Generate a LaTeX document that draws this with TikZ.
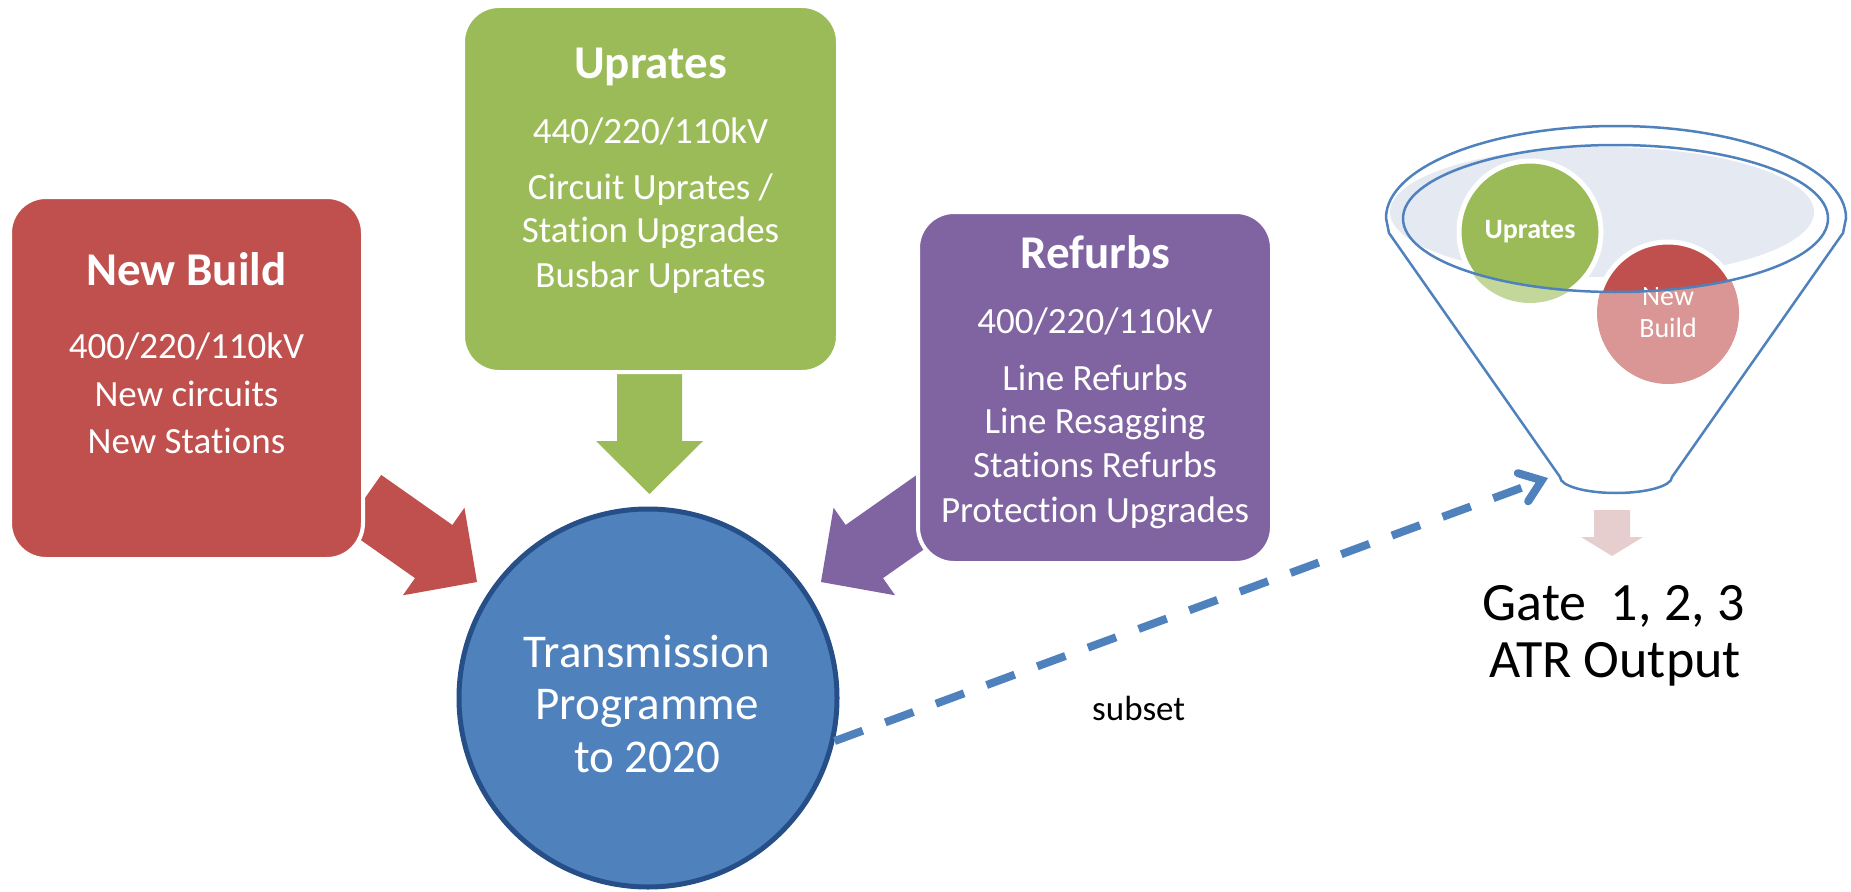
\documentclass[tikz,border=0pt]{standalone}
\usepackage{fontspec}
\setmainfont[Ligatures={NoCommon}]{Carlito}
\usetikzlibrary{arrows.meta,calc}
\definecolor{nbred}{HTML}{C0504D}
\definecolor{upgreen}{HTML}{9BBB59}
\definecolor{rfpurple}{HTML}{8064A2}
\definecolor{tpblue}{HTML}{4F81BD}
\definecolor{tpborder}{RGB}{38,78,135}
\definecolor{funfill}{RGB}{228,233,242}
\definecolor{lightgreen}{RGB}{196,215,155}
\definecolor{lightred}{RGB}{217,150,148}
\definecolor{gatepink}{RGB}{230,206,206}
\newcommand{\blockarrow}[7]{%
  \begin{scope}[shift={#2}, rotate=#3]
    \fill[#1] (0,-#5) -- (#4-#7,-#5) -- (#4-#7,-#6) -- (#4,0) -- (#4-#7,#6) -- (#4-#7,#5) -- (0,#5) -- cycle;
  \end{scope}}
\begin{document}
\begin{tikzpicture}[x=1pt,y=-1pt,
  box/.style={rectangle, rounded corners=36pt, draw=white, line width=4pt, inner sep=0pt},
  title/.style={text=white, anchor=base, inner sep=0pt, font=\fontsize{47}{55}\selectfont\bfseries},
  body/.style={text=white, anchor=base, inner sep=0pt, font=\fontsize{37}{44}\selectfont},
  bigtext/.style={anchor=base, inner sep=0pt, font=\fontsize{47}{56}\selectfont},
  fline/.style={draw=tpblue, line width=2.5pt},
  ctext/.style={text=white, anchor=base, inner sep=0pt, font=\fontsize{28}{32}\selectfont}]
\useasboundingbox (0,0) rectangle (1851,891);

% block arrows (behind boxes)
\blockarrow{nbred}{(362.5,501.5)}{-35.1}{140}{32.5}{53.5}{53}
\blockarrow{rfpurple}{(935.5,501.5)}{-144.9}{140}{32.5}{53.5}{53}
\blockarrow{upgreen}{(649.5,360)}{-90}{134}{32.5}{53.5}{53}

% boxes
\node[box, fill=nbred, minimum width=353pt, minimum height=362pt] (nb) at (186.5,378) {};
\node[box, fill=upgreen, minimum width=375pt, minimum height=366pt] (up) at (650.5,189) {};
\node[box, fill=rfpurple, minimum width=354pt, minimum height=351pt] (rf) at (1095,387.5) {};

\node[title] (nbt) at (186.5,285) {New Build};
\node[body] (nb1) at (186.5,358) {400/220/110kV};
\node[body] (nb2) at (186.5,406) {New circuits};
\node[body] (nb3) at (186.5,453) {New Stations};

\node[title] (upt) at (650.5,78) {Uprates};
\node[body] (up1) at (650.5,143) {440/220/110kV};
\node[body] (up2) at (650.5,199) {Circuit Uprates /};
\node[body] (up3) at (650.5,242) {Station Upgrades};
\node[body] (up4) at (650.5,287) {Busbar Uprates};

\node[title] (rft) at (1095,268) {Refurbs};
\node[body] (rf1) at (1095,333) {400/220/110kV};
\node[body] (rf2) at (1095,390) {Line Refurbs};
\node[body] (rf3) at (1095,433) {Line Resagging};
\node[body] (rf4) at (1095,477) {Stations Refurbs};
\node[body] (rf5) at (1095,522) {Protection Upgrades};

% central circle
\node[circle, fill=tpblue, draw=tpborder, line width=5pt, minimum size=378pt, inner sep=0pt] (tp) at (648,698) {};
\node[bigtext, text=white] (tp1) at (647,667) {Transmission};
\node[bigtext, text=white] (tp2) at (647,719) {Programme};
\node[bigtext, text=white] (tp3) at (647,772) {to 2020};

% funnel
\fill[funfill] (1602,212) ellipse [x radius=212, y radius=65];
\fill[lightgreen] (1530,232) circle [radius=71];
\fill[lightred] (1668,313) circle [radius=71];
\begin{scope}
  \clip (1615.5,218.5) ellipse [x radius=212.5, y radius=73.5];
  \draw[white, line width=5pt, fill=upgreen] (1530,232) circle [radius=71];
  \draw[white, line width=5pt, fill=nbred] (1668,313) circle [radius=71];
\end{scope}
\node[ctext, font=\fontsize{28}{32}\selectfont\bfseries] (fu) at (1530,238) {Uprates};
\node[ctext] (fn1) at (1668,305) {New};
\node[ctext] (fn2) at (1668,337) {Build};
\draw[fline] (1615.5,218.5) ellipse [x radius=212.5, y radius=73.5];
\draw[fline, line join=round] (1560,477) -- (1389,233) -- (1386,218)
  arc [start angle=180, end angle=360, x radius=230, y radius=92]
  -- (1843,233) -- (1672,477)
  arc [start angle=0, end angle=180, x radius=56, y radius=16];
\coordinate (ftip) at (1548,478);

% dashed subset arrow
\draw[tpblue, line width=8pt, dash pattern=on 30pt off 24pt,
  -{Straight Barb[length=20pt, width=30pt, line cap=round]}] (tp.-13) -- (ftip);
\node[anchor=base west, inner sep=0pt, font=\fontsize{35}{42}\selectfont] (sub) at (1092,720) {subset};

% output arrow and text
\blockarrow{gatepink}{(1612,510)}{-90}{46}{18}{31}{19}
\node[anchor=base, inner sep=0pt, font=\fontsize{54}{62}\selectfont] (g1) at (1613.5,620) {Gate\ \ 1, 2, 3};
\node[anchor=base, inner sep=0pt, font=\fontsize{54}{62}\selectfont] (g2) at (1615,677) {ATR Output};
\end{tikzpicture}
\end{document}
